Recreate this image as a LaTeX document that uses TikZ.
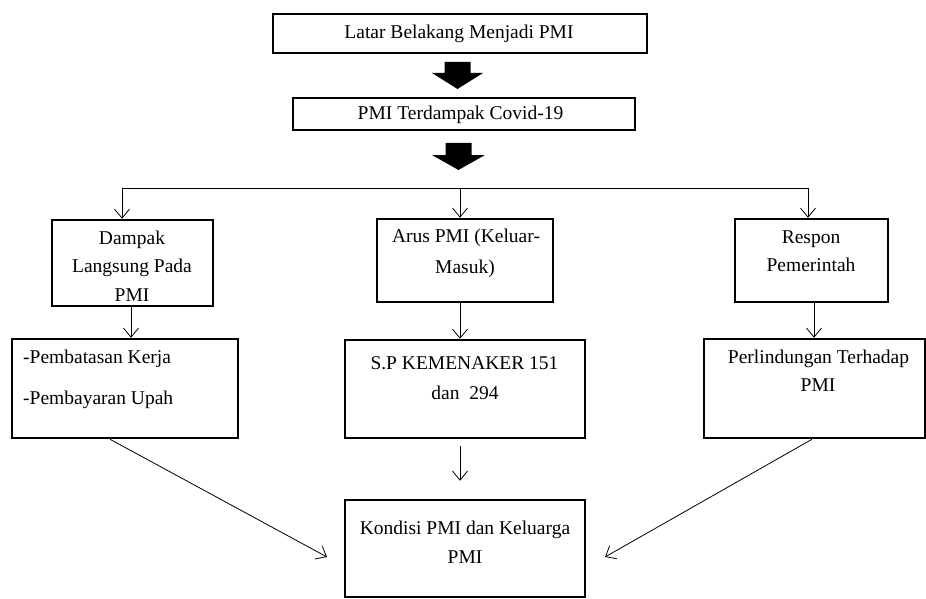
\documentclass[tikz,border=0pt]{standalone}
\usepackage{fontspec}
\setmainfont{Liberation Serif}
\usetikzlibrary{arrows.meta}
\tikzset{
  box/.style={draw, line width=2.5pt, inner sep=0pt, rectangle},
  txt/.style={anchor=base, inner sep=0pt, font=\fontsize{19.5}{23}\selectfont},
  txtl/.style={anchor=base west, inner sep=0pt, font=\fontsize{19.5}{23}\selectfont},
  conn/.style={line width=0.8pt},
  arr/.style={line width=0.8pt, -{Straight Barb[length=9pt,width=15pt,line width=0.8pt]}},
  blockarrow/.style={fill=black, draw=none}
}
\begin{document}
\begin{tikzpicture}[x=1pt,y=-1pt]
\useasboundingbox (0,0) rectangle (926,599);
\fill[white] (0,0) rectangle (926,599);

% boxes
\node[box, minimum width=374pt, minimum height=39pt] (b1) at (460,33.5) {};
\node[box, minimum width=342pt, minimum height=32pt] (b2) at (464,114) {};
\node[box, minimum width=161pt, minimum height=86pt] (b3) at (132.5,263) {};
\node[box, minimum width=176pt, minimum height=83pt] (b4) at (465,260.5) {};
\node[box, minimum width=153pt, minimum height=83pt] (b5) at (811.5,260.5) {};
\node[box, minimum width=226pt, minimum height=99pt] (b6) at (125,388.5) {};
\node[box, minimum width=240pt, minimum height=98pt] (b7) at (465,389) {};
\node[box, minimum width=221pt, minimum height=99pt] (b8) at (814.5,388.5) {};
\node[box, minimum width=240pt, minimum height=97pt] (b9) at (465,548.5) {};

% texts
\node[txt] (t1) at (459,39) {Latar Belakang Menjadi PMI};
\node[txt] (t2) at (460.5,120) {PMI Terdampak Covid-19};
\node[txt] (t3a) at (132,244) {Dampak};
\node[txt] (t3b) at (132,272) {Langsung Pada};
\node[txt] (t3c) at (132,301) {PMI};
\node[txt] (t4a) at (466,242) {Arus PMI (Keluar-};
\node[txt] (t4b) at (465,273) {Masuk)};
\node[txt] (t5a) at (811,243) {Respon};
\node[txt] (t5b) at (811,271) {Pemerintah};
\node[txtl] (t6a) at (23,363) {-Pembatasan Kerja};
\node[txtl] (t6b) at (23,404) {-Pembayaran Upah};
\node[txt] (t7a) at (464.5,369) {S.P KEMENAKER 151};
\node[txt] (t7b) at (465,399) {dan\ \ 294};
\node[txt] (t8a) at (818.5,363) {Perlindungan Terhadap};
\node[txt] (t8b) at (818,391) {PMI};
\node[txt] (t9a) at (465,534) {Kondisi PMI dan Keluarga};
\node[txt] (t9b) at (465,563) {PMI};

% block arrows
\fill[blockarrow] (444.5,62) -- (470.5,62) -- (470.5,73) -- (483,73) -- (457.5,89) -- (432,73) -- (444.5,73) -- cycle;
\fill[blockarrow] (445.5,143) -- (471.5,143) -- (471.5,155) -- (485,155) -- (458.5,170) -- (432,155) -- (445.5,155) -- cycle;

% connector coordinates
\coordinate (hl) at (122,188);
\coordinate (hm) at (460,188);
\coordinate (hr) at (808,188);
\coordinate (xa) at (131,0);
\coordinate (xb) at (460,0);
\coordinate (xc) at (814,0);
\coordinate (dl) at (110,0);
\coordinate (dr) at (812,0);
\coordinate (tl) at (327,557);
\coordinate (tr) at (605,557);

\draw[conn] (hl) -- (hr);
\draw[arr] (hl) -- (hl |- b3.north);
\draw[arr] (hm) -- (hm |- b4.north);
\draw[arr] (hr) -- (hr |- b5.north);

\draw[arr] (b3.south -| xa) -- (b6.north -| xa);
\draw[arr] (b4.south -| xb) -- (b7.north -| xb);
\draw[arr] (b5.south -| xc) -- (b8.north -| xc);

\draw[arr, shorten <=7pt, shorten >=18pt] (b7.south -| xb) -- (b9.north -| xb);
\draw[arr] (b6.south -| dl) -- (tl);
\draw[arr] (b8.south -| dr) -- (tr);
\end{tikzpicture}
\end{document}
